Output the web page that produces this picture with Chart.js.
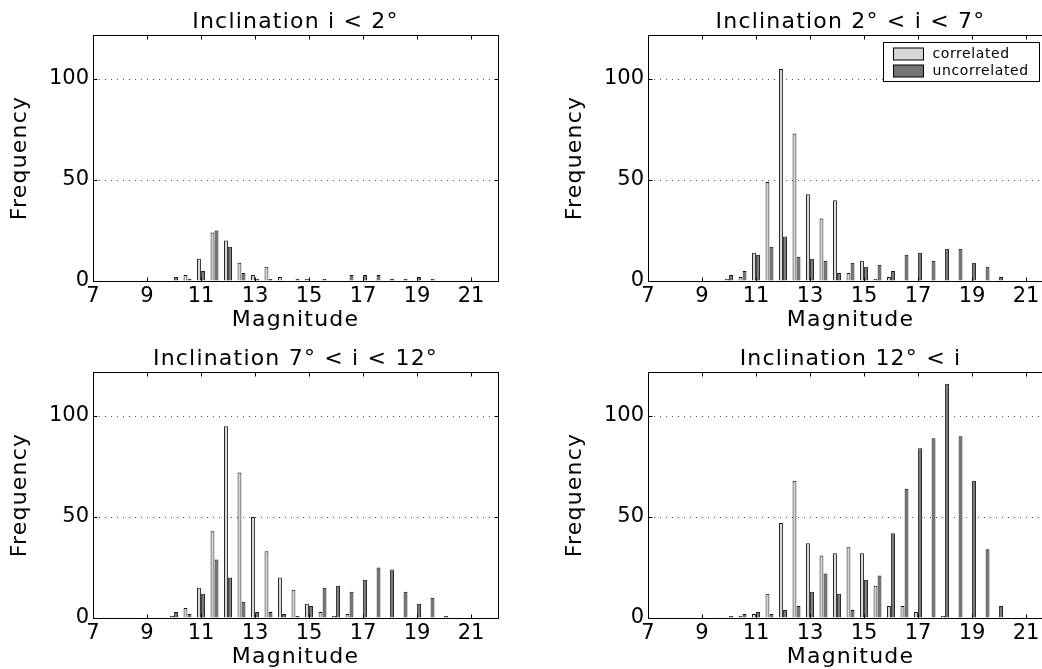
<!DOCTYPE html>
<html>
<head>
<meta charset="utf-8">
<script src="https://cdn.jsdelivr.net/npm/chart.js@4.4.1/dist/chart.umd.min.js"></script>
<style>
  html, body { margin: 0; padding: 0; background: #fff; overflow: hidden; width: 1042px; height: 669px; }
  canvas { position: absolute; }
</style>
</head>
<body>
<canvas id="lowInc" width="540" height="336" style="left:0;top:0"></canvas>
<canvas id="midInc" width="540" height="336" style="left:555px;top:0"></canvas>
<canvas id="highInc" width="540" height="336" style="left:0;top:337px"></canvas>
<canvas id="steepInc" width="540" height="336" style="left:555px;top:337px"></canvas>
<script>
// bin centres (magnitude) and axis ticks
const magnitudes = [7, 7.5, 8, 8.5, 9, 9.5, 10, 10.5, 11, 11.5, 12, 12.5, 13, 13.5, 14, 14.5,
                    15, 15.5, 16, 16.5, 17, 17.5, 18, 18.5, 19, 19.5, 20, 20.5, 21, 21.5];
const xTicks = [7, 9, 11, 13, 15, 17, 19, 21];
const yTicks = [0, 50, 100];
const seriesNames = ['correlated', 'uncorrelated'];

// i < 2 deg
const correlatedLow   = [0,0,0,0,0,0, 0,3,11,24,20,9,3,7,2,0, 1,0,0,0,0,0,0,0,0,0,0,0,0,0];
const uncorrelatedLow = [0,0,0,0,0,0, 2,1,5,25,17,4,1,1,0,1, 0,1,0,3,3,3,1,1,2,1,0,0,0,0];
// 2 < i < 7 deg
const correlatedMid   = [0,0,0,0,0,0, 1,2,14,49,105,73,43,31,40,4, 10,1,2,0,0,0,0,0,0,0,0,0,0,0];
const uncorrelatedMid = [0,0,0,0,0,0, 3,5,13,17,22,12,11,10,4,9, 7,8,5,13,14,10,16,16,9,7,2,0,0,0];
// 7 < i < 12 deg
const correlatedHigh   = [0,0,0,0,0,0, 1,5,15,43,95,72,50,33,20,14, 7,3,1,2,0,0,0,0,0,0,0,0,0,0];
const uncorrelatedHigh = [0,0,0,0,0,0, 3,2,12,29,20,8,3,3,2,1, 6,15,16,13,19,25,24,13,7,10,1,0,0,0];
// 12 deg < i
const correlatedSteep   = [0,0,0,0,0,0, 0,1,2,12,47,68,37,31,32,35, 32,16,6,6,3,0,1,0,0,0,0,0,0,0];
const uncorrelatedSteep = [0,0,0,0,0,0, 1,2,3,2,4,6,13,22,12,4, 19,21,42,64,84,89,116,90,68,34,6,0,0,0];

const FONT = "'DejaVu Sans', 'Liberation Sans', Arial, sans-serif";
const LIGHT = '#d6d6d6';
const DARK = '#747474';

// matlab-ish frame, inward ticks, boxed legend, a bit of letter spacing on titles
const matlabLook = {
    id: 'matlabLook',
    beforeDraw(chart) { chart.ctx.letterSpacing = '1.2px'; },
    afterDatasetsDraw(chart) { chart.ctx.letterSpacing = '0px'; },
    afterDraw(chart, args, opts) {
        const {ctx, chartArea: a} = chart;
        const x = chart.scales.x, y = chart.scales.y;
        ctx.save();
        ctx.strokeStyle = '#000';
        ctx.lineWidth = 1;
        const l = Math.round(a.left) + 0.5, t = Math.round(a.top) + 0.5;
        const r = Math.round(a.right) + 0.5, b = Math.round(a.bottom) + 0.5;
        ctx.strokeRect(l, t, r - l, b - t);
        ctx.beginPath();
        x.ticks.forEach(tk => {
            const px = Math.round(x.getPixelForValue(tk.value)) + 0.5;
            ctx.moveTo(px, b); ctx.lineTo(px, b - 4);
            ctx.moveTo(px, t); ctx.lineTo(px, t + 4);
        });
        y.ticks.forEach(tk => {
            const py = Math.round(y.getPixelForValue(tk.value)) + 0.5;
            ctx.moveTo(l, py); ctx.lineTo(l + 4, py);
            ctx.moveTo(r, py); ctx.lineTo(r - 4, py);
        });
        ctx.stroke();

        if (opts.legend) {
            const w = 156, h = 39;
            const lx = Math.round(a.right - 14 - w) + 0.5, ly = Math.round(a.top + 7) + 0.5;
            ctx.fillStyle = '#fff';
            ctx.fillRect(lx, ly, w, h);
            ctx.strokeRect(lx, ly, w, h);
            ctx.font = '14px ' + FONT;
            ctx.letterSpacing = '0.6px';
            ctx.textBaseline = 'middle';
            ctx.textAlign = 'left';
            chart.data.datasets.forEach((ds, i) => {
                const cy = Math.round(ly + 11 + i * 17.7);
                ctx.fillStyle = ds.backgroundColor;
                ctx.fillRect(lx + 10, cy - 6, 30, 12);
                ctx.strokeRect(lx + 10, cy - 6, 30, 12);
                ctx.fillStyle = '#000';
                ctx.fillText(ds.label, lx + 49, cy);
            });
        }
        ctx.restore();
    }
};

function makeChart(id, title, correlated, uncorrelated, showLegend) {
    const series = [correlated, uncorrelated];
    const colors = [LIGHT, DARK];
    new Chart(document.getElementById(id), {
        type: 'bar',
        data: {
            datasets: series.map((vals, k) => ({
                label: seriesNames[k],
                data: magnitudes.map((m, i) => ({x: m, y: vals[i]})),
                backgroundColor: colors[k],
                borderColor: '#111',
                borderWidth: 1,
                categoryPercentage: 0.6,
                barPercentage: 0.95
            }))
        },
        options: {
            responsive: false,
            animation: false,
            layout: { padding: { left: 0, right: 42, top: 0, bottom: 0 } },
            plugins: {
                legend: { display: false },
                tooltip: { enabled: false },
                title: {
                    display: true,
                    text: title,
                    fullSize: false,
                    color: '#000',
                    font: { family: FONT, size: 22, weight: 'normal', lineHeight: 1 },
                    padding: { top: 11, bottom: 2 }
                },
                matlabLook: { legend: showLegend }
            },
            scales: {
                x: {
                    type: 'linear',
                    min: 7,
                    max: 22,
                    offset: false,
                    afterBuildTicks: s => { s.ticks = xTicks.map(v => ({value: v})); },
                    afterFit: s => { s.height = 55; },
                    grid: { display: false, drawTicks: false },
                    border: { display: false },
                    ticks: {
                        z: 1, autoSkip: false, maxRotation: 0, padding: 3, color: '#000',
                        font: { family: FONT, size: 21, lineHeight: 1.2 }
                    },
                    title: {
                        display: true, text: 'Magnitude', color: '#000',
                        font: { family: FONT, size: 22, lineHeight: 1 },
                        padding: { top: 0, bottom: 5 }
                    }
                },
                y: {
                    min: 0,
                    max: 121.8,
                    afterBuildTicks: s => { s.ticks = yTicks.map(v => ({value: v})); },
                    afterFit: s => { s.width = 93; },
                    grid: {
                        drawTicks: false,
                        lineWidth: 1,
                        color: c => (c.tick && c.tick.value === 0) ? 'rgba(0,0,0,0)' : '#555'
                    },
                    border: { display: false, dash: [1, 5] },
                    ticks: {
                        z: 1, padding: 4, color: '#000',
                        font: { family: FONT, size: 21, lineHeight: 1.2 }
                    },
                    title: {
                        display: true, text: 'Frequency', color: '#000',
                        font: { family: FONT, size: 22, lineHeight: 1 },
                        padding: { top: 9, bottom: 0 }
                    }
                }
            }
        },
        plugins: [matlabLook]
    });
}

makeChart('lowInc', 'Inclination i < 2°', correlatedLow, uncorrelatedLow, false);
makeChart('midInc', 'Inclination 2° < i < 7°', correlatedMid, uncorrelatedMid, true);
makeChart('highInc', 'Inclination 7° < i < 12°', correlatedHigh, uncorrelatedHigh, false);
makeChart('steepInc', 'Inclination 12° < i', correlatedSteep, uncorrelatedSteep, false);
</script>
</body>
</html>
